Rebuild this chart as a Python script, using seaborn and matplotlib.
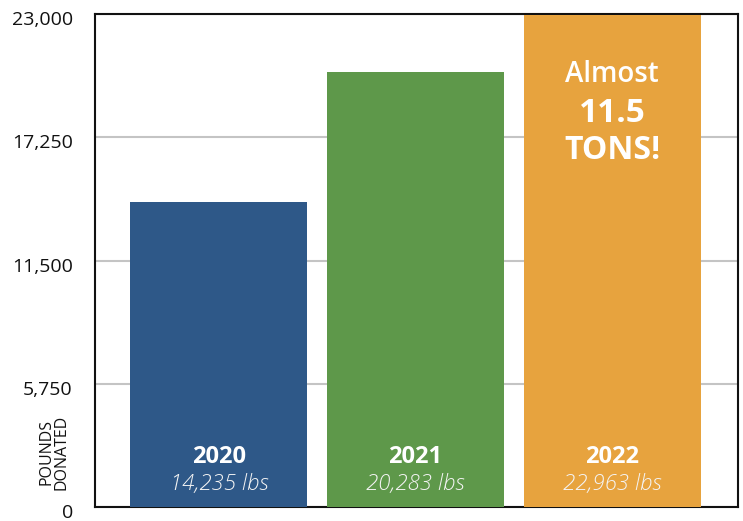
import matplotlib
matplotlib.use("Agg")
import matplotlib.pyplot as plt
import matplotlib.transforms as mtransforms
import seaborn as sns
import pandas as pd

years = ["2020", "2021", "2022"]
pounds = [14235, 20283, 22963]
value_labels = ["14,235 lbs", "20,283 lbs", "22,963 lbs"]
colors = ["#2E5888", "#5E984A", "#E7A33E"]
yticks = [0, 5750, 11500, 17250, 23000]
ytick_labels = ["0", "5,750", "11,500", "17,250", "23,000"]

sns.set_theme(style="white")
plt.rcParams["font.family"] = ["Open Sans", "DejaVu Sans"]

df = pd.DataFrame({"year": years, "pounds": pounds})

fig = plt.figure(figsize=(7.43, 5.21), dpi=100)
ax = fig.add_axes([95 / 743, 1 - 507 / 521, (738 - 95) / 743, (507 - 14) / 521])

sns.barplot(data=df, x="year", y="pounds", hue="year", palette=colors,
            width=0.9, saturation=1, legend=False, ax=ax, zorder=3,
            linewidth=0, edgecolor="none")

ax.set_xlim(-0.63, 2.64)
ax.set_ylim(0, 23000)
ax.set_yticks(yticks)
ax.set_yticklabels(ytick_labels, fontsize=14, color="#111111")
ax.set_xticks([])
ax.set_xlabel("")
ax.set_ylabel("")
ax.tick_params(axis="y", length=0, pad=16)
offset = mtransforms.ScaledTranslation(0, -4 / 100, fig.dpi_scale_trans)
for lbl in ax.get_yticklabels():
    lbl.set_transform(lbl.get_transform() + offset)
ax.yaxis.grid(True, color="#C4C4C4", linewidth=1.5, zorder=0)
ax.xaxis.grid(False)
for s in ax.spines.values():
    s.set_visible(True)
    s.set_color("#111111")
    s.set_linewidth(1.5)

for i, (yr, lab) in enumerate(zip(years, value_labels)):
    ax.text(i, 2333, yr, ha="center", va="center", color="white",
            fontsize=17, fontweight="bold", zorder=5)
    ax.text(i, 1073, lab, ha="center", va="center", color="#F4F4F4",
            fontsize=16, fontstyle="italic", fontweight="light", zorder=5)

ax.text(2, 20200, "Almost", ha="center", va="center", color="white", fontsize=20,
        fontweight="semibold", zorder=5)
ax.text(2, 18380, "11.5", ha="center", va="center", color="white", fontsize=24, fontweight="bold", zorder=5)
ax.text(2, 16655, "TONS!", ha="center", va="center", color="white", fontsize=23, fontweight="bold", zorder=5)

fig.text(54 / 743, 1 - 452 / 521, "POUNDS\nDONATED", rotation=90, ha="center", va="center",
         fontsize=11.5, color="#111111", linespacing=0.9)

fig.savefig("out.png", dpi=100)
